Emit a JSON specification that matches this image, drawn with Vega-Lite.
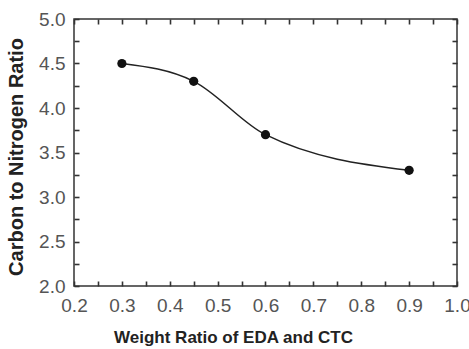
{
  "$schema": "https://vega.github.io/schema/vega-lite/v6.json",
  "width": 383,
  "height": 267,
  "autosize": {"type": "none"},
  "padding": {"left": 74, "top": 19, "right": 12, "bottom": 63},
  "background": "white",
  "data": {"values": [
    {"ratio": 0.3, "cn": 4.5},
    {"ratio": 0.45, "cn": 4.3},
    {"ratio": 0.6, "cn": 3.7},
    {"ratio": 0.9, "cn": 3.3}
  ]},
  "config": {
    "view": {"stroke": "#333333", "strokeWidth": 1.5},
    "font": "Liberation Sans",
    "axis": {
      "grid": false,
      "labelColor": "#555555",
      "labelFontSize": 19,
      "labelFont": "Liberation Sans",
      "titleFont": "Liberation Sans",
      "titleFontSize": 17,
      "titleFontWeight": "bold",
      "titleColor": "#222222"
    }
  },
  "layer": [
    {
      "mark": {"type": "line", "interpolate": "monotone", "color": "#222222", "strokeWidth": 1.5},
      "encoding": {
        "x": {
          "field": "ratio", "type": "quantitative",
          "scale": {"domain": [0.2, 1.0], "nice": false, "zero": false},
          "axis": {
            "orient": "bottom",
            "domain": false,
            "offset": -5,
            "tickSize": 5,
            "tickColor": "#333333",
            "tickWidth": 1.6,
            "title": "Weight Ratio of EDA and CTC",
            "values": [0.2, 0.25, 0.3, 0.35, 0.4, 0.45, 0.5, 0.55, 0.6, 0.65, 0.7, 0.75, 0.8, 0.85, 0.9, 0.95, 1.0],
            "labelExpr": "round(datum.value*100) % 10 == 0 ? format(datum.value, '.1f') : ''",
            "labelPadding": 10,
            "labelFlush": false,
            "labelOverlap": false,
            "titleX": 159,
            "titleY": 61,
            "titleBaseline": "alphabetic"
          }
        },
        "y": {
          "field": "cn", "type": "quantitative",
          "scale": {"domain": [2, 5], "nice": false, "zero": false},
          "axis": {
            "orient": "left",
            "domain": false,
            "offset": -5,
            "tickSize": 5,
            "tickColor": "#333333",
            "tickWidth": 1.6,
            "title": "Carbon to Nitrogen Ratio",
            "titleFontSize": 20,
            "values": [2, 2.25, 2.5, 2.75, 3, 3.25, 3.5, 3.75, 4, 4.25, 4.5, 4.75, 5],
            "labelExpr": "round(datum.value*100) % 50 == 0 ? format(datum.value, '.1f') : ''",
            "labelPadding": 9,
            "labelFlush": false,
            "labelOverlap": false,
            "titleX": -57,
            "titleY": 137.5,
            "titleBaseline": "alphabetic"
          }
        }
      }
    },
    {
      "mark": {"type": "point", "filled": true, "color": "#111111", "size": 85, "opacity": 1},
      "encoding": {
        "x": {
          "field": "ratio", "type": "quantitative",
          "scale": {"domain": [0.2, 1.0], "nice": false, "zero": false},
          "axis": {
            "orient": "top",
            "domain": false,
            "offset": -5,
            "tickSize": 5,
            "tickColor": "#333333",
            "tickWidth": 1.6,
            "title": null,
            "labels": false,
            "values": [0.2, 0.25, 0.3, 0.35, 0.4, 0.45, 0.5, 0.55, 0.6, 0.65, 0.7, 0.75, 0.8, 0.85, 0.9, 0.95, 1.0]
          }
        },
        "y": {
          "field": "cn", "type": "quantitative",
          "scale": {"domain": [2, 5], "nice": false, "zero": false},
          "axis": {
            "orient": "right",
            "domain": false,
            "offset": -5,
            "tickSize": 5,
            "tickColor": "#333333",
            "tickWidth": 1.6,
            "title": null,
            "labels": false,
            "values": [2, 2.25, 2.5, 2.75, 3, 3.25, 3.5, 3.75, 4, 4.25, 4.5, 4.75, 5]
          }
        }
      }
    }
  ],
  "resolve": {"axis": {"x": "independent", "y": "independent"}}
}
